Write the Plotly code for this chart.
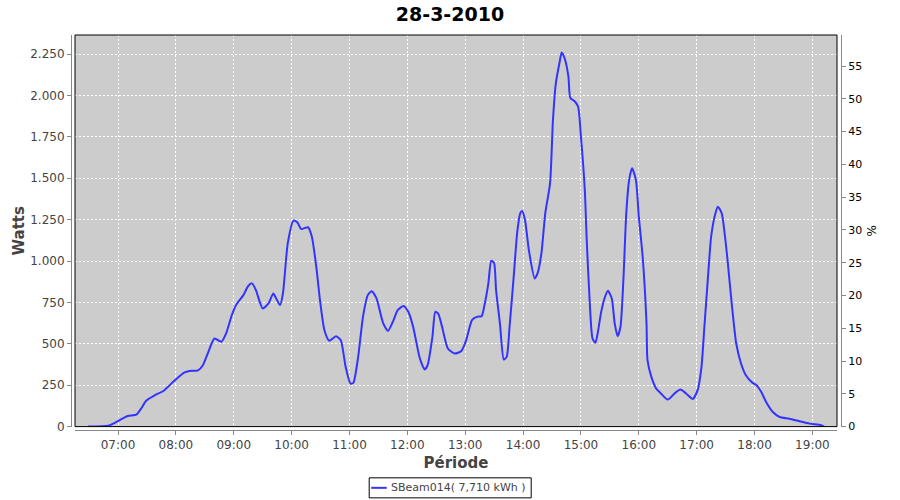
import plotly.graph_objects as go

day = "2010-03-28 "
times = ["06:29", "06:50", "06:57", "07:10", "07:19", "07:24", "07:29", "07:38", "07:47", "07:59",
         "08:09", "08:14", "08:23", "08:28", "08:33", "08:40", "08:47", "08:52", "08:58", "09:03",
         "09:10", "09:15", "09:19", "09:23", "09:30", "09:36", "09:41", "09:44", "09:48", "09:51",
         "09:56", "10:02", "10:06", "10:10", "10:17", "10:21", "10:26", "10:29", "10:34", "10:39",
         "10:46", "10:51", "10:56", "11:01", "11:04", "11:09", "11:14", "11:19", "11:23", "11:28",
         "11:35", "11:40", "11:45", "11:50", "11:56", "12:01", "12:06", "12:13", "12:18", "12:21",
         "12:26", "12:29", "12:32", "12:36", "12:42", "12:49", "12:56", "13:01", "13:07", "13:12",
         "13:17", "13:20", "13:24", "13:27", "13:30", "13:32", "13:36", "13:40", "13:43", "13:46",
         "13:50", "13:54", "13:57", "13:59", "14:02", "14:06", "14:12", "14:15", "14:19", "14:23",
         "14:28", "14:31", "14:34", "14:38", "14:40", "14:43", "14:47", "14:49", "14:53", "14:57",
         "15:00", "15:04", "15:06", "15:09", "15:12", "15:15", "15:17", "15:21", "15:25", "15:28",
         "15:32", "15:35", "15:38", "15:41", "15:44", "15:47", "15:50", "15:53", "15:57", "16:00",
         "16:04", "16:08", "16:09", "16:13", "16:18", "16:23", "16:30", "16:37", "16:43", "16:49",
         "16:56", "17:01", "17:05", "17:08", "17:12", "17:15", "17:19", "17:22", "17:26", "17:29",
         "17:32", "17:36", "17:41", "17:46", "17:51", "17:58", "18:02", "18:07", "18:12", "18:19",
         "18:26", "18:36", "18:47", "18:57", "19:09", "19:12"]
watts = [0, 6, 24, 64, 72, 109, 155, 189, 215, 280,
         327, 336, 340, 371, 441, 532, 512, 562, 673, 740,
         794, 849, 865, 824, 714, 744, 804, 774, 734, 804,
         1107, 1244, 1232, 1193, 1204, 1147, 945, 784, 583, 518,
         546, 522, 361, 260, 264, 421, 663, 794, 818, 774,
         623, 578, 633, 703, 728, 693, 603, 411, 345, 371,
         542, 693, 683, 603, 472, 441, 457, 522, 643, 663,
         667, 734, 865, 1002, 986, 824, 623, 405, 421, 603,
         885, 1177, 1288, 1302, 1248, 1066, 895, 925, 1046, 1288,
         1470, 1853, 2075, 2205, 2260, 2226, 2115, 1984, 1968, 1933,
         1752, 1429, 1127, 764, 532, 506, 552, 693, 784, 820,
         774, 623, 546, 603, 885, 1288, 1490, 1561, 1490, 1268,
         1026, 623, 401, 300, 230, 200, 163, 200, 224, 200,
         167, 220, 361, 603, 925, 1147, 1278, 1328, 1288, 1167,
         1006, 764, 502, 381, 310, 264, 250, 209, 149, 88,
         58, 48, 32, 18, 8, 0]

series_name = "SBeam014( 7,710 kWh )"
title_text = "28-3-2010"
watt_ticks = [0, 250, 500, 750, 1000, 1250, 1500, 1750, 2000, 2250]
pct_ticks = [0, 5, 10, 15, 20, 25, 30, 35, 40, 45, 50, 55]
hour_ticks = ["07:00", "08:00", "09:00", "10:00", "11:00", "12:00", "13:00",
              "14:00", "15:00", "16:00", "17:00", "18:00", "19:00"]

FONT = "DejaVu Sans"
TICKC = "#444444"
AXC = "#888888"
LINEC = "#3333ff"

# paper geometry (pixels)
PX0, PX1, PY0, PY1 = 71.3, 841.3, 35.0, 429.7


def px(x):
    return (x - PX0) / (PX1 - PX0)


def py(y):
    return (PY1 - y) / (PY1 - PY0)


fig = go.Figure()
fig.add_trace(go.Scatter(
    x=[day + t for t in times], y=watts, mode="lines", name=series_name,
    line=dict(color=LINEC, width=2, shape="spline", smoothing=0.6), showlegend=False,
))
# empty trace so the right-hand % axis is drawn
fig.add_trace(go.Scatter(x=[], y=[], yaxis="y2", showlegend=False, hoverinfo="skip"))

fig.update_layout(
    width=900, height=500,
    margin=dict(l=PX0, r=900 - PX1, t=PY0, b=500 - PY1, autoexpand=False),
    paper_bgcolor="white", plot_bgcolor="#cccccc",
    separators=",.",
    font=dict(family=FONT, size=12, color=TICKC),
    title=dict(text="<b>" + title_text + "</b>", x=0.5, xanchor="center",
               y=1 - 14 / 500, yanchor="middle", font=dict(size=19, color="black")),
    showlegend=False,
    xaxis=dict(
        type="date", domain=[4 / 770, 1 - 4 / 770], anchor="free", position=0,
        range=[day + "06:15:24", day + "19:25:30"],
        tickvals=[day + h for h in hour_ticks], ticktext=hour_ticks,
        ticks="outside", ticklen=4, tickcolor=AXC,
        showline=True, linecolor=AXC, linewidth=1,
        showgrid=True, gridcolor="white", griddash="2px,2px", gridwidth=1,
        zeroline=False, tickfont=dict(size=12, color=TICKC), automargin=False,
        title=dict(text="<b>Période</b>", font=dict(size=15, color=TICKC), standoff=6),
    ),
    yaxis=dict(
        domain=[3.4 / 394.7, 1], anchor="free", position=0,
        range=[0, 2365], tickvals=watt_ticks, tickformat=",d",
        ticks="outside", ticklen=4, tickcolor=AXC,
        showline=True, linecolor=AXC, linewidth=1,
        showgrid=True, gridcolor="white", griddash="2px,2px", gridwidth=1,
        zeroline=False, tickfont=dict(size=12, color=TICKC), automargin=False,
        title=dict(text="<b>Watts</b>", font=dict(size=15, color=TICKC), standoff=0),
    ),
    yaxis2=dict(
        domain=[3.4 / 394.7, 1], overlaying="y", side="right", anchor="free", position=1,
        range=[0, 59.74], tickvals=pct_ticks,
        ticks="outside", ticklen=4, tickcolor=AXC,
        showline=True, linecolor=AXC, linewidth=1, showgrid=False, zeroline=False,
        tickfont=dict(size=11, color="black"), automargin=False,
        title=dict(text="%", font=dict(size=12, color="black"), standoff=6),
    ),
)

# plot border
fig.add_shape(type="rect", xref="x domain", yref="y domain", x0=0, x1=1, y0=0, y1=1,
              line=dict(color="black", width=1), fillcolor="rgba(0,0,0,0)", layer="above")

# legend box drawn by hand (compact, like the reference)
fig.add_shape(type="rect", xref="paper", yref="paper",
              x0=px(369.5), x1=px(531.5), y0=py(497.5), y1=py(477.5),
              line=dict(color="black", width=1), fillcolor="white", layer="above")
fig.add_shape(type="line", xref="paper", yref="paper",
              x0=px(371.5), x1=px(387), y0=py(487.5), y1=py(487.5),
              line=dict(color=LINEC, width=2), layer="above")
fig.add_annotation(xref="paper", yref="paper", x=px(390), y=py(487.5),
                   text=series_name, showarrow=False, xanchor="left", yanchor="middle",
                   font=dict(size=11, color=TICKC), borderpad=0)

fig.write_html("out.html", config={"displayModeBar": False},
               post_script="document.body.style.margin='0px';")
